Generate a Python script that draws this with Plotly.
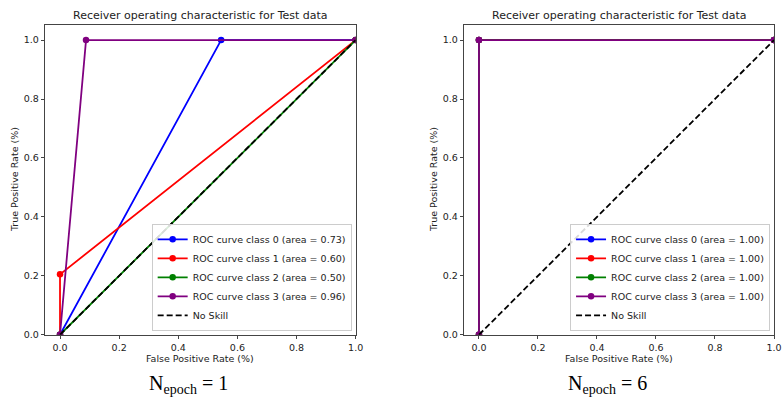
import plotly.graph_objects as go

W, H = 783, 398

# ROC curves per class, two training runs
class_labels = ["ROC curve class 0", "ROC curve class 1", "ROC curve class 2", "ROC curve class 3"]
class_colors = ["#0000ff", "#ff0000", "#008000", "#800080"]

fpr_epoch1 = [[0.0, 0.545, 1.0], [0.0, 0.0, 1.0], [0.0, 1.0], [0.0, 0.088, 1.0]]
tpr_epoch1 = [[0.0, 1.0, 1.0], [0.0, 0.205, 1.0], [0.0, 1.0], [0.0, 1.0, 1.0]]
auc_epoch1 = [0.73, 0.60, 0.50, 0.96]

fpr_epoch6 = [[0.0, 0.0, 1.0], [0.0, 0.0, 1.0], [0.0, 0.0, 1.0], [0.0, 0.0, 1.0]]
tpr_epoch6 = [[0.0, 1.0, 1.0], [0.0, 1.0, 1.0], [0.0, 1.0, 1.0], [0.0, 1.0, 1.0]]
auc_epoch6 = [1.00, 1.00, 1.00, 1.00]

no_skill_x = [0.0, 1.0]
no_skill_y = [0.0, 1.0]

epochs = [1, 6]
x_ticks = [0.0, 0.2, 0.4, 0.6, 0.8, 1.0]
y_ticks = [0.0, 0.2, 0.4, 0.6, 0.8, 1.0]

FONT = "DejaVu Sans"
TXT = "#222222"
SMALL = 9.5
TITLE = 11

# panel frames in pixels: (left, right), (top, bottom)
panels_px = [((45.7, 359.3), (25.7, 339.0)), ((469.0, 782.0), (25.7, 339.0))]

fig = go.Figure()

runs = [(fpr_epoch1, tpr_epoch1, auc_epoch1), (fpr_epoch6, tpr_epoch6, auc_epoch6)]
for p, (fprs, tprs, aucs) in enumerate(runs):
    xa = "x" if p == 0 else "x2"
    ya = "y" if p == 0 else "y2"
    lg = "legend" if p == 0 else "legend2"
    for i in range(4):
        fig.add_trace(go.Scatter(
            x=fprs[i], y=tprs[i], xaxis=xa, yaxis=ya, legend=lg,
            mode="lines+markers",
            line=dict(color=class_colors[i], width=1.8),
            marker=dict(color=class_colors[i], size=6.5),
            name=f"{class_labels[i]} (area = {aucs[i]:.2f})",
        ))
    fig.add_trace(go.Scatter(
        x=no_skill_x, y=no_skill_y, xaxis=xa, yaxis=ya, legend=lg,
        mode="lines", line=dict(color="black", width=1.8, dash="6px,3px"),
        name="No Skill",
    ))

axis_common = dict(
    showgrid=False, zeroline=False, showline=True, mirror=True,
    linecolor="#444444", linewidth=1, ticks="outside", ticklen=3.5,
    tickcolor="#444444", tickfont=dict(family=FONT, size=SMALL, color=TXT),
    tickformat=".1f",
)

layout = dict(
    width=W, height=H, margin=dict(l=0, r=0, t=0, b=0),
    paper_bgcolor="white", plot_bgcolor="white",
    font=dict(family=FONT, color=TXT),
    showlegend=True,
)

annotations = []
for p, ((xl, xr), (yt, yb)) in enumerate(panels_px):
    sfx = "" if p == 0 else "2"
    xd = [xl / W, xr / W]
    yd = [1 - yb / H, 1 - yt / H]
    layout["xaxis" + sfx] = dict(axis_common, domain=xd, range=[-0.05, 1.0],
                                 tickvals=x_ticks, anchor="y" + sfx)
    layout["yaxis" + sfx] = dict(axis_common, domain=yd, range=[0.0, 1.05],
                                 tickvals=y_ticks, anchor="x" + sfx)
    cx = (xd[0] + xd[1]) / 2
    annotations.append(dict(
        text="Receiver operating characteristic for Test data",
        x=cx, y=1 - 16 / H, xref="paper", yref="paper", showarrow=False,
        xanchor="center", yanchor="middle", font=dict(family=FONT, size=TITLE, color=TXT)))
    annotations.append(dict(
        text="False Positive Rate (%)",
        x=cx, y=1 - 363.5 / H, xref="paper", yref="paper", showarrow=False,
        xanchor="center", yanchor="middle", font=dict(family=FONT, size=SMALL, color=TXT)))
    annotations.append(dict(
        text="True Positive Rate (%)", textangle=-90,
        x=(xl - 31.5) / W, y=(yd[0] + yd[1]) / 2, xref="paper", yref="paper",
        showarrow=False, xanchor="center", yanchor="middle",
        font=dict(family=FONT, size=SMALL, color=TXT)))
    annotations.append(dict(
        text=f"N<sub>epoch</sub> = {epochs[p]}",
        x=(cx * W - 12) / W, y=1 - 389.5 / H, xref="paper", yref="paper", showarrow=False,
        xanchor="center", yanchor="middle",
        font=dict(family="Liberation Serif", size=20, color="black")))
    layout["legend" + sfx] = dict(
        x=(xr - 4) / W, y=1 - (yb - 4) / H, xanchor="right", yanchor="bottom",
        xref="paper", yref="paper",
        bgcolor="rgba(255,255,255,0.85)", bordercolor="#cccccc", borderwidth=1,
        font=dict(family=FONT, size=SMALL, color=TXT), itemwidth=30,
        tracegroupgap=0,
    )

layout["annotations"] = annotations
fig.update_layout(**layout)

fig.write_html("out.html")
